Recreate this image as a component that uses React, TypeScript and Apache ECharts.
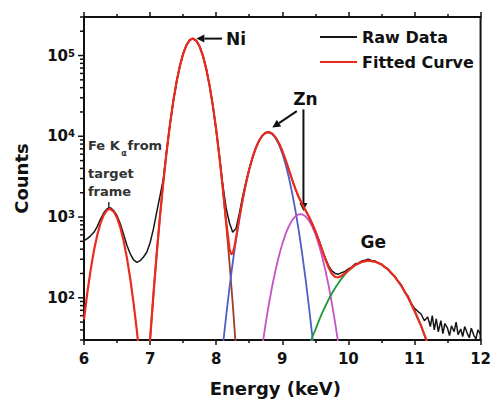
import React, { useEffect, useRef } from 'react';
import * as echarts from 'echarts';

// Energy (keV) vs counts
const rawData: [number, number][] = [
  [6.00, 509], [6.05, 540], [6.10, 585], [6.15, 646], [6.20, 760], [6.25, 945], [6.30, 1130], [6.35, 1270],
  [6.40, 1300], [6.45, 1200], [6.50, 1037], [6.55, 820], [6.60, 610], [6.65, 443], [6.70, 350], [6.75, 295],
  [6.80, 275], [6.85, 288], [6.90, 320], [6.95, 366], [7.00, 480], [7.05, 708], [7.10, 1150], [7.15, 1830],
  [7.20, 2950], [7.25, 6500], [7.30, 13900], [7.35, 26900], [7.40, 47000], [7.45, 74000], [7.50, 105000],
  [7.55, 134600], [7.60, 155600], [7.65, 162000], [7.70, 152400], [7.75, 129100], [7.80, 98600], [7.85, 68100],
  [7.90, 42360], [7.95, 23770], [8.00, 12020], [8.05, 5600], [8.10, 2500], [8.15, 1300], [8.20, 850],
  [8.25, 650], [8.30, 720], [8.35, 1100], [8.40, 1800], [8.45, 2700], [8.50, 3900], [8.55, 5470],
  [8.60, 7190], [8.65, 8863], [8.70, 10226], [8.75, 11089], [8.80, 11276], [8.85, 10763], [8.90, 9663],
  [8.95, 8202], [9.00, 6615], [9.05, 5117], [9.10, 3851], [9.15, 2894], [9.20, 2217], [9.25, 1754],
  [9.30, 1451], [9.35, 1217], [9.40, 1020], [9.45, 839], [9.50, 672], [9.55, 530], [9.60, 405], [9.65, 312],
  [9.70, 250], [9.75, 215], [9.80, 200], [9.85, 196], [9.90, 205], [9.95, 212], [10.00, 228], [10.05, 240],
  [10.10, 262], [10.15, 268], [10.20, 285], [10.25, 292], [10.30, 300], [10.35, 290], [10.40, 286],
  [10.45, 270], [10.50, 262], [10.55, 238], [10.60, 228], [10.65, 200], [10.70, 186], [10.75, 160],
  [10.80, 145], [10.85, 118], [10.90, 106], [10.95, 86], [11.00, 74], [11.05, 68], [11.10, 63], [11.15, 52],
  [11.20, 58], [11.24, 44], [11.27, 60], [11.30, 40], [11.33, 55], [11.36, 38], [11.40, 52], [11.43, 36],
  [11.46, 48], [11.50, 42], [11.53, 34], [11.56, 45], [11.60, 38], [11.63, 50], [11.66, 35], [11.70, 41],
  [11.73, 33], [11.76, 44], [11.80, 36], [11.83, 32], [11.86, 42], [11.90, 34], [11.93, 31], [11.96, 40],
  [12.00, 35],
];

const fittedCurve: [number, number][] = [
  [6.00, 54], [6.05, 115], [6.10, 220], [6.15, 382], [6.20, 596], [6.25, 839], [6.30, 1064], [6.35, 1219],
  [6.39, 1259], [6.45, 1169], [6.50, 979], [6.55, 741], [6.60, 505], [6.65, 310], [6.70, 172], [6.75, 86],
  [6.80, 39], [6.85, 16], [6.90, 8], [6.95, 9], [7.00, 31], [7.05, 108], [7.10, 352], [7.15, 1028],
  [7.20, 2716], [7.25, 6457], [7.30, 13870], [7.35, 26850], [7.40, 46990], [7.45, 73960], [7.50, 105000],
  [7.55, 134600], [7.60, 155600], [7.645, 162200], [7.70, 152400], [7.75, 129100], [7.80, 98600],
  [7.85, 68100], [7.90, 42360], [7.95, 23770], [8.00, 12020], [8.05, 5490], [8.10, 2279], [8.15, 895],
  [8.20, 411], [8.225, 346], [8.25, 356], [8.275, 425], [8.30, 549], [8.35, 963], [8.40, 1634], [8.45, 2606],
  [8.50, 3899], [8.55, 5470], [8.60, 7190], [8.65, 8863], [8.70, 10226], [8.75, 11089], [8.80, 11276],
  [8.85, 10763], [8.90, 9663], [8.95, 8202], [9.00, 6615], [9.05, 5117], [9.10, 3851], [9.15, 2894],
  [9.20, 2217], [9.25, 1754], [9.30, 1451], [9.35, 1217], [9.40, 1020], [9.45, 839], [9.50, 672],
  [9.55, 522], [9.60, 398], [9.65, 301], [9.70, 238], [9.75, 199], [9.80, 181], [9.85, 179], [9.90, 187],
  [9.95, 202], [10.00, 219], [10.10, 253], [10.20, 278], [10.30, 288], [10.40, 281], [10.50, 259],
  [10.60, 224], [10.70, 183], [10.80, 141], [10.90, 102], [11.00, 69], [11.10, 45], [11.20, 27], [11.25, 20],
];

const niPeak: [number, number][] = [
  [6.95, 7.5], [7.00, 30], [7.05, 108], [7.10, 352], [7.15, 1028], [7.20, 2716], [7.25, 6457], [7.30, 13870],
  [7.35, 26850], [7.40, 46990], [7.45, 73960], [7.50, 105000], [7.55, 134600], [7.60, 155600],
  [7.645, 162200], [7.70, 152400], [7.75, 129100], [7.80, 98600], [7.85, 68100], [7.90, 42360],
  [7.95, 23770], [8.00, 12020], [8.05, 5480], [8.10, 2254], [8.15, 836], [8.20, 280], [8.25, 85],
  [8.30, 23], [8.35, 5.6],
];

const znKaPeak: [number, number][] = [
  [8.05, 10], [8.10, 25], [8.15, 59], [8.20, 131], [8.25, 271], [8.30, 526], [8.35, 957], [8.40, 1633],
  [8.45, 2606], [8.50, 3899], [8.55, 5470], [8.60, 7190], [8.65, 8850], [8.70, 10200], [8.75, 11040],
  [8.785, 11220], [8.85, 10620], [8.90, 9440], [8.95, 7870], [9.00, 6150], [9.05, 4500], [9.10, 3080],
  [9.15, 1980], [9.20, 1194], [9.25, 673], [9.30, 356], [9.35, 176], [9.40, 82], [9.45, 36], [9.50, 15],
];

const znKbPeak: [number, number][] = [
  [8.65, 13], [8.70, 26], [8.75, 49], [8.80, 86], [8.85, 143], [8.90, 223], [8.95, 332], [9.00, 465],
  [9.05, 617], [9.10, 771], [9.15, 914], [9.20, 1023], [9.25, 1081], [9.275, 1089], [9.30, 1081],
  [9.35, 1023], [9.40, 914], [9.45, 771], [9.50, 617], [9.55, 465], [9.60, 332], [9.65, 223], [9.70, 143],
  [9.75, 86], [9.80, 49], [9.85, 26], [9.90, 13],
];

const gePeak: [number, number][] = [
  [9.40, 24], [9.45, 32], [9.50, 40], [9.55, 51], [9.60, 64], [9.65, 78], [9.70, 95], [9.75, 113],
  [9.80, 132], [9.85, 153], [9.90, 174], [9.95, 196], [10.00, 216], [10.10, 253], [10.20, 278],
  [10.31, 288], [10.40, 281], [10.50, 259], [10.60, 224], [10.70, 183], [10.80, 141], [10.90, 102],
  [11.00, 69], [11.10, 45], [11.20, 27], [11.25, 20],
];

const yMajorTicks = [100, 1000, 10000, 100000];
const yMinorTicks = [
  30, 40, 50, 60, 70, 80, 90,
  200, 300, 400, 500, 600, 700, 800, 900,
  2000, 3000, 4000, 5000, 6000, 7000, 8000, 9000,
  20000, 30000, 40000, 50000, 60000, 70000, 80000, 90000,
  200000, 300000,
];

const X_MIN = 6;
const X_MAX = 12;
const Y_MIN = 30;
const Y_MAX = 300000;

const FONT = '"DejaVu Sans", sans-serif';
const INK = '#111111';

export default function App() {
  const ref = useRef<HTMLDivElement>(null);

  useEffect(() => {
    const chart = echarts.init(ref.current!, null, { renderer: 'svg' });

    const lineSeries = (name: string, data: [number, number][], color: string, width: number) => ({
      type: 'line',
      name,
      data,
      showSymbol: false,
      symbol: 'none',
      smooth: false,
      clip: true,
      silent: true,
      lineStyle: { color, width },
      itemStyle: { color },
    });

    const tickData = [
      ...yMajorTicks.map((v) => [X_MIN, v, 1]),
      ...yMinorTicks.map((v) => [X_MIN, v, 0]),
    ];

    chart.setOption({
      animation: false,
      backgroundColor: '#ffffff',
      grid: {
        left: 84,
        top: 17,
        width: 399,
        height: 325,
        show: true,
        borderColor: INK,
        borderWidth: 2,
        backgroundColor: 'transparent',
      },
      legend: {
        data: ['Raw Data', 'Fitted Curve'],
        orient: 'vertical',
        left: 319,
        top: 29,
        padding: 0,
        itemWidth: 37,
        itemHeight: 14,
        itemGap: 9,
        selectedMode: false,
        itemStyle: { opacity: 0 },
        textStyle: { fontFamily: FONT, fontWeight: 'bold', fontSize: 16, color: INK },
      },
      xAxis: [
        {
          type: 'value',
          min: X_MIN,
          max: X_MAX,
          interval: 1,
          position: 'bottom',
          name: 'Energy (keV)',
          nameLocation: 'middle',
          nameGap: 39,
          nameTextStyle: { fontFamily: FONT, fontWeight: 'bold', fontSize: 18, color: INK, padding: [0, 14, 0, 0] },
          axisLine: { show: true, lineStyle: { color: INK, width: 2 } },
          axisTick: { show: true, inside: false, length: 5, lineStyle: { color: INK, width: 1.5 } },
          minorTick: { show: true, splitNumber: 2, length: 3, lineStyle: { color: INK, width: 1.5 } },
          splitLine: { show: false },
          axisLabel: { fontFamily: FONT, fontWeight: 'bold', fontSize: 15, color: INK, margin: 11 },
        },
        {
          type: 'value',
          min: X_MIN,
          max: X_MAX,
          interval: 1,
          position: 'top',
          axisLine: { show: true, lineStyle: { color: INK, width: 2 } },
          axisTick: { show: true, inside: false, length: 5, lineStyle: { color: INK, width: 1.5 } },
          minorTick: { show: true, splitNumber: 2, length: 3, lineStyle: { color: INK, width: 1.5 } },
          splitLine: { show: false },
          axisLabel: { show: false },
        },
      ],
      yAxis: {
        type: 'log',
        logBase: 10,
        min: Y_MIN,
        max: Y_MAX,
        name: 'Counts',
        nameLocation: 'middle',
        nameGap: 54,
        nameTextStyle: { fontFamily: FONT, fontWeight: 'bold', fontSize: 18, color: INK },
        axisLine: { show: true, lineStyle: { color: INK, width: 2 } },
        axisTick: { show: false },
        minorTick: { show: false },
        splitLine: { show: false },
        axisLabel: {
          margin: 9,
          formatter: (v: number) => {
            const e = Math.log10(v);
            const r = Math.round(e);
            if (Math.abs(e - r) > 1e-6) return '';
            return `{b|10}{s|${r}}`;
          },
          rich: {
            b: { fontFamily: FONT, fontWeight: 'bold', fontSize: 15, color: INK },
            s: { fontFamily: FONT, fontWeight: 'bold', fontSize: 10, color: INK, verticalAlign: 'top' },
          },
        },
      },
      series: [
        lineSeries('Ni', niPeak, '#9c3f24', 1.8),
        lineSeries('Zn Ka', znKaPeak, '#4d5fc4', 1.8),
        lineSeries('Zn Kb', znKbPeak, '#c652c6', 1.8),
        lineSeries('Ge', gePeak, '#1f9a3a', 1.8),
        lineSeries('Raw Data', rawData, '#161616', 1.5),
        lineSeries('Fitted Curve', fittedCurve, '#ec2a20', 2.2),
        {
          type: 'custom',
          name: 'yticks',
          coordinateSystem: 'cartesian2d',
          data: tickData,
          clip: false,
          silent: true,
          renderItem: (_params: any, api: any) => {
            const p = api.coord([X_MIN, api.value(1)]);
            const len = api.value(2) ? 5 : 3;
            return {
              type: 'line',
              shape: { x1: p[0] - 1, y1: p[1], x2: p[0] - 1 - len, y2: p[1] },
              style: { stroke: INK, lineWidth: 1.5 },
            };
          },
        },
      ],
    });

    const px = (p: [number, number]) => chart.convertToPixel({ seriesIndex: 0 }, p) as number[];
    const arrow = (from: [number, number], to: [number, number], head = 8, hw = 4) => {
      const a = px(from);
      const b = px(to);
      const dx = b[0] - a[0];
      const dy = b[1] - a[1];
      const L = Math.hypot(dx, dy) || 1;
      const ux = dx / L;
      const uy = dy / L;
      const bx = b[0] - ux * head;
      const by = b[1] - uy * head;
      return [
        { type: 'line', shape: { x1: a[0], y1: a[1], x2: bx, y2: by }, style: { stroke: INK, lineWidth: 2 } },
        {
          type: 'polygon',
          shape: { points: [[b[0], b[1]], [bx - uy * hw, by + ux * hw], [bx + uy * hw, by - ux * hw]] },
          style: { fill: INK },
        },
      ];
    };
    const label = (text: string, at: [number, number], size: number, align = 'left', color = INK) => {
      const p = px(at);
      return {
        type: 'text',
        x: p[0],
        y: p[1],
        style: {
          text,
          font: `bold ${size}px ${FONT}`,
          fill: color,
          align,
          verticalAlign: 'middle',
        },
      };
    };

    const feColor = '#333333';
    const feTick0 = px([6.375, 1531]);
    const feTick1 = px([6.375, 1256]);

    chart.setOption({
      graphic: [
        label('Ni', [8.15, 160000], 17),
        ...arrow([8.09, 162000], [7.70, 162000]),
        label('Zn', [9.35, 29000], 17, 'center'),
        ...arrow([9.22, 20500], [8.85, 12800]),
        ...arrow([9.32, 21500], [9.32, 1186]),
        label('Ge', [10.376, 490], 17, 'center'),
        label('Fe K', [6.06, 7700], 13, 'left', feColor),
        label('α', [6.562, 6200], 8, 'left', feColor),
        label('from', [6.66, 7700], 13, 'left', feColor),
        label('target', [6.06, 3490], 13, 'left', feColor),
        label('frame', [6.06, 2060], 13, 'left', feColor),
        {
          type: 'line',
          shape: { x1: feTick0[0], y1: feTick0[1], x2: feTick1[0], y2: feTick1[1] },
          style: { stroke: feColor, lineWidth: 1.5 },
        },
      ],
    });

    return () => chart.dispose();
  }, []);

  return <div ref={ref} style={{ position: 'fixed', left: 0, top: 0, width: 494, height: 402 }} />;
}
